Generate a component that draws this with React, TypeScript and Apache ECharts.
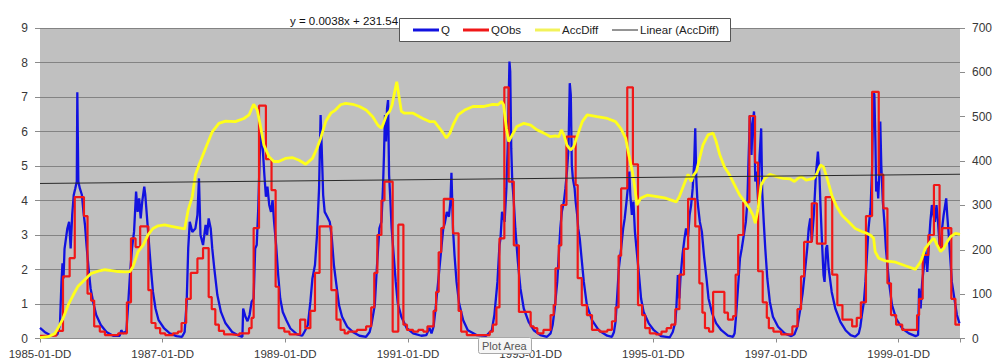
import React, { useEffect, useRef } from 'react';
import * as echarts from 'echarts';

// x values are months since 1985-01
const xTickLabels = ['1985-01-DD', '1987-01-DD', '1989-01-DD', '1991-01-DD', '1993-01-DD', '1995-01-DD', '1997-01-DD', '1999-01-DD'];
const seriesNames = ['Q', 'QObs', 'AccDiff', 'Linear (AccDiff)'];
const equationText = 'y = 0.0038x + 231.54';
const tooltipText = 'Plot Area';

const Q: [number, number][] = [
  [0,0.31],[0.9,0.19],[2.2,0.08],[3.4,0.12],[3.9,0.39],[4.2,1.64],[4.4,2.18],[4.6,1.74],[4.8,2.6],[5.35,3.19],[5.7,3.38],[6.0,2.61],[6.3,3.58],[6.6,4.16],[6.9,4.35],[7.2,4.55],[7.3,7.14],[7.5,4.55],[7.8,4.35],[8.2,4.16],[8.5,3.67],[8.8,3.29],[9.1,2.71],[9.5,2.03],[9.9,1.45],[10.4,1.06],[11.0,0.68],[11.9,0.39],[13.0,0.19],[14.3,0.08],[15.6,0.08],[15.9,0.24],[16.3,0.15],[16.9,0.21],[17.2,0.87],[17.6,1.84],[18.0,2.61],[18.4,3.09],[18.8,4.26],[19.1,3.67],[19.4,4.06],[19.7,3.48],[20.0,3.97],[20.4,4.4],[20.6,4.16],[20.9,3.58],[21.3,2.8],[21.7,2.03],[22.1,1.35],[22.6,0.87],[23.2,0.53],[24.3,0.29],[25.4,0.15],[26.7,0.07],[27.8,0.05],[28.3,0.19],[28.7,1.06],[29.0,2.61],[29.3,3.38],[29.8,3.09],
  [30.4,3.19],[30.8,3.58],[31.1,4.64],[31.4,3.0],[31.9,2.71],[32.4,3.29],[32.7,3.0],[33.0,3.48],[33.4,3.19],[33.7,2.61],[34.1,2.03],[34.7,1.26],[35.4,0.77],[36.3,0.44],[37.6,0.19],[38.9,0.08],[39.6,0.05],[39.75,0.87],[40.2,0.63],[40.6,0.5],[41.0,0.68],[41.4,1.06],[41.8,1.16],[42.1,2.61],[42.4,2.71],[42.7,3.77],[43.0,5.32],[43.3,6.0],[43.5,5.7],[43.7,5.22],[43.9,4.74],[44.2,4.11],[44.5,4.4],[44.85,3.87],[45.2,3.67],[45.5,4.01],[45.8,3.38],[46.2,2.71],[46.6,1.84],[47.0,1.16],[47.5,0.77],[48.2,0.53],[49.0,0.29],[50.3,0.12],[51.3,0.08],[51.8,0.21],[52.4,0.39],[52.9,1.06],[53.3,1.74],[53.8,2.13],[54.2,3.0],[54.6,4.35],[54.9,6.48],[55.1,5.61],[55.4,4.16],[55.7,3.67],[56.2,3.53],[56.7,3.38],[57.1,2.9],[57.5,2.13],[58.0,1.55],[58.5,0.97],[59.1,0.63],[60.1,0.34],
  [61.2,0.19],[62.5,0.08],[63.8,0.05],[64.5,0.19],[64.9,0.44],[65.5,0.97],[65.9,2.03],[66.4,3.19],[66.8,3.38],[67.1,4.35],[67.3,5.32],[67.5,6.48],[67.7,5.71],[67.9,6.67],[68.1,6.91],[68.3,4.74],[68.5,4.16],[68.8,3.19],[69.2,2.42],[69.6,1.64],[70.0,1.02],[70.7,0.63],[71.7,0.31],[73.0,0.15],[74.6,0.08],[75.6,0.1],[76.2,0.31],[76.6,0.15],[77.0,0.34],[77.4,0.87],[77.9,1.64],[78.4,2.42],[78.9,3.19],[79.2,3.34],[79.6,3.67],[80.0,3.53],[80.3,3.97],[80.5,4.8],[80.8,3.19],[81.1,2.42],[81.5,1.64],[82.0,1.02],[82.8,0.53],[83.7,0.24],[85.4,0.1],[87.3,0.08],[88.4,0.24],[88.9,0.68],[89.5,1.64],[89.9,2.71],
  [90.1,2.9],[90.4,3.67],[90.9,3.38],[91.25,4.35],[91.5,5.51],[91.85,8.03],[92.0,7.74],[92.2,5.51],[92.4,4.55],[92.7,3.97],[93.0,3.19],[93.5,2.22],[94.0,1.45],[94.65,0.87],[95.6,0.48],[96.6,0.24],[97.9,0.1],[99.2,0.05],[99.9,0.15],[100.3,0.39],[100.7,0.87],[101.2,1.64],[101.5,2.42],[101.8,3.19],[102.1,3.67],[102.5,3.97],[102.8,4.35],[103.1,4.84],[103.4,5.51],[103.65,7.4],[103.85,7.06],[104.05,5.03],[104.25,4.64],[104.6,4.35],[104.8,3.97],[105.1,3.58],[105.3,3.19],[105.6,2.9],[105.9,2.42],[106.4,1.64],[107.0,0.97],[108.0,0.53],[109.3,0.24],[110.97,0.08],[111.9,0.05],[112.3,0.19],[112.6,0.48],[112.9,1.16],[113.25,2.03],[113.7,2.61],[114.1,3.19],[114.4,3.48],[114.75,3.97],[115.0,4.35],[115.3,4.84],[115.5,4.16],[115.8,3.58],[116.1,3.97],[116.4,3.09],[116.7,2.61],[117.2,1.84],[117.6,1.16],[118.1,0.77],[119.1,0.44],[120.1,0.24],
  [121.5,0.07],[123.2,0.03],[123.8,0.19],[124.3,0.48],[124.5,0.87],[124.8,1.84],[125.1,1.16],[125.3,1.74],[125.7,2.42],[126.1,2.9],[126.4,3.19],[126.8,2.95],[127.1,3.58],[127.4,3.87],[127.7,4.35],[128.0,5.13],[128.2,6.09],[128.4,4.64],[128.6,4.06],[128.8,3.77],[129.1,3.38],[129.5,3.09],[129.9,2.42],[130.4,1.74],[130.8,1.16],[131.5,0.73],[132.3,0.44],[133.3,0.24],[134.6,0.08],[135.6,0.05],[135.9,0.15],[136.2,0.68],[136.6,1.55],[136.95,2.32],[137.3,2.61],[137.7,3.0],[138.1,3.38],[138.4,3.97],[138.6,5.03],[138.9,6.48],[139.2,5.32],[139.4,6.19],[139.7,6.58],[139.95,4.55],[140.2,4.84],[140.5,3.97],[140.8,5.32],[141.1,6.09],[141.3,4.26],[141.6,3.38],[141.9,2.61],[142.3,1.74],[142.8,1.06],[143.4,0.63],[144.4,0.34],[145.7,0.15],[147.0,0.07],[147.6,0.12],[148.2,0.35],[148.7,0.8],[149.2,1.3],[149.7,2.0],[150.1,2.6],
  [150.4,3.19],[150.7,3.48],[151.0,2.8],[151.4,3.58],[151.8,4.74],[152.2,5.42],[152.5,4.74],[152.7,3.87],[153.0,2.8],[153.3,1.84],[153.5,1.64],[153.8,2.61],[154.0,2.71],[154.3,2.03],[154.9,1.35],[155.6,0.87],[156.6,0.48],[157.6,0.24],[158.6,0.1],[159.5,0.05],[160.2,0.15],[160.5,0.34],[160.8,0.68],[161.2,1.06],[161.5,1.64],[161.8,2.42],[162.1,3.19],[162.5,3.77],[162.8,4.93],[163.05,7.16],[163.25,7.06],[163.45,5.71],[163.6,4.26],[163.8,4.55],[164.0,4.06],[164.2,4.74],[164.4,6.29],[164.6,5.03],[164.9,3.97],[165.2,3.38],[165.5,2.61],[166.1,1.64],[166.7,0.97],[167.5,0.58],[168.7,0.29],[170.0,0.15],[171.3,0.07],[171.8,0.1],[172.0,1.45],[172.3,0.87],[172.6,1.64],[172.9,2.03],[173.2,2.61],[173.6,1.93],[173.9,2.71],[174.2,3.38],[174.5,3.87],[174.8,3.58],[175.1,3.38],[175.4,3.87],[175.7,3.38],[176.0,2.71],[176.2,2.61],[176.5,3.19],[176.8,3.58],[177.0,3.77],[177.3,4.06],[177.5,3.58],[177.8,3.0],[178.1,2.32],[178.4,1.64],[179.0,1.06],[179.4,0.68],[179.9,0.44]
];

// step vertices: [month where the level starts, level]
const QObs: [number, number][] = [
  [0,0.08],[3.2,0.22],[4.5,1.8],[5.8,2.33],[6.8,4.1],[8.6,3.55],[9.3,1.3],[10.0,1.1],[10.6,0.35],[11.7,0.2],[12.7,0.1],[15.3,0.15],[17.0,1.05],[17.8,2.9],[18.7,2.65],[19.6,3.25],[21.2,1.4],[21.8,0.45],[22.6,0.3],[23.5,0.15],[24.5,0.1],[26.0,0.15],[27.0,0.2],[27.7,0.45],
  [28.6,1.15],[29.5,1.9],[30.8,2.32],[31.9,2.62],[33.0,1.2],[33.6,0.85],[34.3,0.4],[35.0,0.22],[36.0,0.12],[37.5,0.1],[39.0,0.15],[40.9,0.3],[41.4,0.6],[41.8,3.2],[42.85,6.75],[44.2,5.2],[45.3,4.3],[46.1,1.5],[46.7,0.3],[47.8,0.2],[48.8,0.12],[50.9,0.55],[51.9,0.3],[52.9,0.8],[53.8,1.9],[54.7,3.25],[57.0,1.4],[58.0,0.55],[58.8,0.25],[59.6,0.15],
  [60.3,0.2],[62.0,0.25],[63.8,0.35],[64.8,0.9],[65.4,1.9],[66.0,3.0],[66.8,4.0],[67.4,4.55],[69.0,0.2],[70.1,3.3],[71.1,0.4],[71.8,0.25],[73.0,0.2],[74.0,0.25],[75.0,0.2],[75.8,0.35],[77.0,0.8],[77.5,1.35],[78.0,2.5],[78.5,3.2],[79.0,4.05],[80.8,3.05],[81.9,0.8],[82.4,0.2],[83.5,0.1],[88.0,0.2],[88.6,0.4],[89.3,0.9],[89.9,2.9],
  [90.85,7.28],[91.7,4.55],[92.7,2.7],[93.7,0.77],[96.0,0.35],[96.6,0.3],[97.3,0.15],[98.5,0.25],[99.9,0.68],[100.5,0.97],[100.85,2.03],[101.5,2.7],[102.0,3.87],[103.0,5.85],[104.8,4.45],[105.2,1.75],[106.0,0.97],[107.0,0.68],[108.0,0.25],[109.5,0.2],[111.0,0.25],[111.9,0.5],[112.6,0.9],[113.2,2.4],[113.7,4.35],[114.9,7.28],[116.0,5.05],[117.0,0.97],[117.8,0.68],[118.4,0.3],[119.3,0.15],
  [120.5,0.12],[121.6,0.2],[122.6,0.3],[123.5,0.4],[124.3,0.85],[125.1,1.85],[126.0,2.6],[126.8,4.05],[128.2,3.25],[129.0,1.6],[129.6,0.75],[130.1,0.3],[130.9,0.2],[131.7,1.35],[133.9,0.75],[134.6,0.55],[135.6,0.65],[136.1,1.85],[136.6,3.0],[137.6,3.95],[138.8,6.45],[139.9,5.1],[140.5,1.95],[141.4,1.05],[142.2,0.6],[142.6,0.3],[143.5,0.2],[145.0,0.12],[147.2,0.35],[148.2,0.85],[148.9,1.8],[149.5,2.8],
  [151.0,3.92],[152.0,2.75],[153.7,4.1],[155.0,1.85],[156.0,0.97],[157.0,0.55],[158.9,0.35],[159.8,0.6],[160.6,1.05],[161.6,3.55],[162.8,7.15],[164.1,4.75],[165.0,3.77],[165.8,1.6],[166.5,0.68],[167.5,0.4],[168.7,0.25],[171.6,0.68],[172.0,1.15],[172.7,2.42],[173.8,3.0],[174.9,4.45],[176.0,2.65],[176.5,3.2],[178.3,1.15],[179.1,0.4],[180,0.4]
];

const AccDiff: [number, number][] = [
  [0,2],[1.6,4],[2.9,11],[3.5,23],[4.5,45],[5.5,75],[6.5,98],[7.4,117],[8.7,132],[10.05,147],[11.4,152],[12.7,155],[14.0,153],[15.3,151],[16.6,150],[17.6,151],[18.2,162],[19.2,196],[20.2,211],[21.1,233],[22.1,248],[23.1,254],[24.4,256],[25.7,253],[27.0,250],[28.3,247],[29.0,290],[29.8,320],
  [30.4,369],[31.1,391],[32.4,429],[33.7,466],[35.0,485],[36.3,490],[38.2,489],[39.9,496],[40.9,504],[41.8,528],[42.5,515],[43.1,481],[43.8,436],[44.8,410],[45.75,399],[46.7,399],[48.0,406],[49.35,408],[50.7,402],[52.0,393],[53.3,406],[54.2,429],[54.9,451],[55.9,489],[56.9,508],[57.8,515],[58.8,527],[59.8,530],
  [61.2,528],[62.5,523],[63.8,515],[65.1,500],[66.1,481],[66.8,474],[67.2,485],[67.8,504],[68.4,512],[68.9,527],[69.4,557],[69.8,579],[70.2,549],[70.7,512],[71.3,508],[73.0,508],[74.9,496],[76.2,489],[77.2,489],[77.9,478],[78.9,463],[79.5,452],[80.2,463],[80.8,481],[81.8,504],[83.1,515],[84.7,523],[86.7,523],[88.6,528],[89.6,527],
  [90.3,534],[90.7,527],[91.25,474],[91.7,444],[92.4,459],[93.3,478],[94.65,485],[96.0,481],[97.3,470],[98.6,463],[99.9,455],[100.85,457],[101.5,455],[102.0,470],[102.5,459],[103.1,436],[103.8,425],[104.4,432],[105.2,459],[106.1,489],[107.05,504],[109.0,500],[111.0,496],[112.6,489],[113.6,474],[114.6,451],[115.2,414],[115.9,376],[116.4,338],[116.8,301],[117.5,316],[118.8,323],
  [120.1,321],[122.2,317],[123.5,312],[124.5,308],[125.1,320],[126.1,350],[126.8,370],[127.4,354],[127.9,369],[128.4,376],[129.05,406],[129.7,436],[130.7,459],[131.7,463],[132.3,444],[133.0,414],[133.9,387],[134.9,369],[135.9,346],[136.9,323],[137.9,308],[138.8,293],[139.5,278],[139.95,260],[140.5,293],[141.1,346],[141.8,361],[142.8,370],[144.1,365],[145.4,361],[146.7,360],[147.6,354],[148.3,361],[148.95,365],[149.9,357],
  [151.4,361],[152.0,372],[152.7,391],[153.3,387],[154.0,361],[155.0,320],[155.9,297],[156.9,278],[158.2,263],[159.5,248],[160.8,241],[161.8,237],[162.5,233],[163.1,226],[163.4,196],[164.1,181],[165.4,175],[167.4,172],[169.3,164],[171.3,156],[172.3,173],[173.2,203],[174.2,218],[174.9,226],[175.5,211],[176.2,196],[176.8,203],[177.5,218],[178.1,229],[179.1,237],[180,235]
];

// linear trend end points (y = 0.0038x + 231.54 on Excel date serials)
const AccDiffTrend: [number, number][] = [[0, 349.5], [180, 370.3]];

const COLORS = { q: '#1212e0', qobs: '#f01818', acc: '#ffff1a', trend: '#2a2a2a' };
const FONT = '"Liberation Sans", Arial, sans-serif';

export default function App() {
  const ref = useRef<HTMLDivElement>(null);
  useEffect(() => {
    if (!ref.current) return;
    const chart = echarts.init(ref.current, undefined, { renderer: 'svg' });
    const axisGray = '#8c8c8c';
    const labelColor = '#383838';
    const legendY = 30;
    const legendText = (x: number, text: string) => ({
      type: 'text', x, y: legendY, z: 102,
      style: { text, fill: '#222', font: `11.5px ${FONT}`, textVerticalAlign: 'middle', verticalAlign: 'middle' },
    });
    const legendLine = (x1: number, x2: number, color: string, w: number) => ({
      type: 'line', z: 101, shape: { x1, y1: legendY, x2, y2: legendY }, style: { stroke: color, lineWidth: w },
    });
    const option: any = {
      animation: false,
      backgroundColor: '#ffffff',
      grid: { left: 40, right: 42, top: 28, bottom: 22.5, show: true, backgroundColor: '#c0c0c0', borderWidth: 0 },
      xAxis: {
        type: 'value', min: 0, max: 180, interval: 24,
        axisLine: { show: true, lineStyle: { color: axisGray } },
        axisTick: { show: true, length: 4, lineStyle: { color: axisGray } },
        axisLabel: {
          formatter: (v: number) => xTickLabels[v / 24] ?? '',
          color: labelColor, fontSize: 11.5, fontFamily: FONT, margin: 9,
        },
        splitLine: { show: false },
      },
      yAxis: [
        {
          type: 'value', min: 0, max: 9, interval: 1, position: 'left',
          axisLine: { show: false },
          axisTick: { show: true, length: 5, lineStyle: { color: axisGray } },
          axisLabel: { color: labelColor, fontSize: 12, fontFamily: FONT, margin: 12 },
          splitLine: { show: true, lineStyle: { color: '#838383', width: 1 } },
        },
        {
          type: 'value', min: 0, max: 700, interval: 100, position: 'right',
          axisLine: { show: false },
          axisTick: { show: true, length: 5, lineStyle: { color: axisGray } },
          axisLabel: { color: labelColor, fontSize: 12, fontFamily: FONT, margin: 12 },
          splitLine: { show: false },
        },
      ],
      series: [
        { name: seriesNames[0], type: 'line', data: Q, yAxisIndex: 0, symbol: 'none', lineStyle: { color: COLORS.q, width: 2.3 }, itemStyle: { color: COLORS.q } },
        { name: seriesNames[1], type: 'line', step: 'end', data: QObs, yAxisIndex: 0, symbol: 'none', lineStyle: { color: COLORS.qobs, width: 2.2 }, itemStyle: { color: COLORS.qobs } },
        { name: seriesNames[2], type: 'line', data: AccDiff, yAxisIndex: 1, symbol: 'none', lineStyle: { color: COLORS.acc, width: 2.8 }, itemStyle: { color: COLORS.acc } },
        { name: seriesNames[3], type: 'line', data: AccDiffTrend, yAxisIndex: 1, symbol: 'none', lineStyle: { color: COLORS.trend, width: 1 }, itemStyle: { color: COLORS.trend } },
      ],
      graphic: [
        { type: 'text', x: 290, y: 21, z: 100, style: { text: equationText, fill: '#111', font: `11.5px ${FONT}`, textVerticalAlign: 'middle', verticalAlign: 'middle' } },
        { type: 'rect', z: 100, shape: { x: 399.5, y: 18.5, width: 331, height: 23 }, style: { fill: '#ffffff', stroke: '#555', lineWidth: 1 } },
        legendLine(413, 439, COLORS.q, 3), legendText(441, seriesNames[0]),
        legendLine(463, 489, COLORS.qobs, 3), legendText(491, seriesNames[1]),
        legendLine(535, 560, '#f2f25a', 3), legendText(562, seriesNames[2]),
        legendLine(612, 638, COLORS.trend, 1), legendText(640, seriesNames[3]),
        { type: 'rect', z: 110, shape: { x: 478.5, y: 337.5, width: 53, height: 16, r: 2 }, style: { fill: '#f6f6f6', stroke: '#a8a8a8', lineWidth: 1 } },
        { type: 'text', z: 111, x: 482, y: 346, style: { text: tooltipText, fill: '#555', font: `11px ${FONT}`, textVerticalAlign: 'middle', verticalAlign: 'middle' } },
      ],
    };
    chart.setOption(option);
    return () => chart.dispose();
  }, []);
  return <div ref={ref} style={{ position: 'absolute', left: 0, top: 0, width: 1002, height: 361 }} />;
}
